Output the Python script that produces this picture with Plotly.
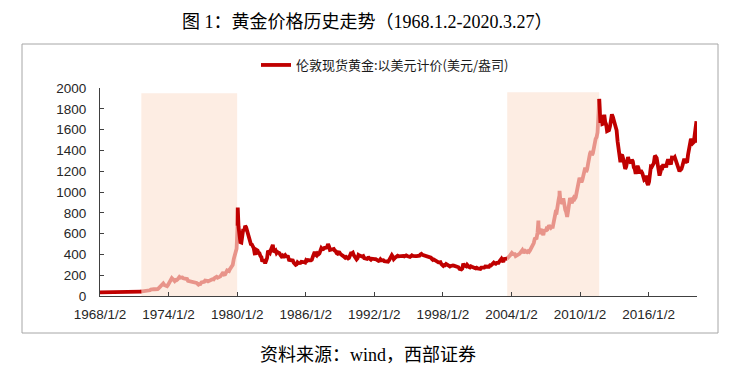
import pandas as pd
import plotly.graph_objects as go

# ---------------- data ----------------
title_text = "图 1：黄金价格历史走势（1968.1.2-2020.3.27）"
source_text = "资料来源：wind，西部证券"
series_name = "伦敦现货黄金:以美元计价(美元/盎司)"

# monthly gold price (USD/oz), Jan 1968 .. Mar 2020 (read/estimated)
gold_price = [
    # 1968
    35.2, 35.2, 36.0, 37.9, 40.8, 41.1, 39.5, 39.2, 39.7, 39.8, 40.8, 41.9,
    # 1969
    42.3, 42.6, 43.2, 43.3, 43.5, 41.3, 41.8, 41.1, 40.9, 40.4, 37.4, 35.2,
    # 1970
    34.9, 35.0, 35.1, 35.6, 35.9, 35.4, 35.3, 35.4, 36.2, 37.5, 37.4, 37.4,
    # 1971
    37.9, 38.7, 38.9, 39.0, 40.5, 40.1, 41.0, 42.7, 42.0, 42.5, 42.9, 43.5,
    # 1972
    45.8, 48.3, 48.3, 49.0, 54.6, 62.1, 65.7, 67.0, 65.5, 64.9, 62.9, 63.9,
    # 1973
    65.1, 74.2, 84.4, 90.5, 102.0, 120.1, 120.2, 106.8, 102.6, 100.1, 94.8, 106.7,
    # 1974
    129.2, 150.2, 168.4, 172.2, 163.3, 154.1, 143.0, 154.6, 151.8, 158.8, 181.7, 183.9,
    # 1975
    176.3, 179.6, 178.2, 170.1, 167.4, 164.2, 165.2, 163.2, 144.6, 142.8, 142.8, 139.3,
    # 1976
    131.6, 131.0, 132.6, 128.1, 128.0, 125.8, 117.8, 109.3, 114.3, 116.2, 130.4, 133.6,
    # 1977
    132.3, 136.4, 148.5, 149.1, 146.7, 140.9, 143.3, 144.8, 149.7, 158.5, 162.3, 160.5,
    # 1978
    173.2, 178.2, 183.7, 175.3, 176.3, 183.8, 188.6, 206.1, 212.5, 227.1, 206.1, 207.8,
    # 1979
    227.3, 245.7, 242.1, 239.2, 257.6, 279.1, 294.7, 300.8, 355.1, 391.7, 392.5, 455.1,
    # 1980
    675.3, 665.3, 553.6, 517.4, 513.8, 600.7, 644.3, 627.2, 673.6, 661.1, 623.5, 594.9,
    # 1981
    557.4, 500.0, 499.8, 495.8, 479.7, 460.8, 409.3, 410.7, 443.1, 437.7, 413.4, 410.1,
    # 1982
    384.1, 374.2, 330.2, 350.5, 333.7, 314.9, 339.2, 364.0, 435.6, 422.1, 415.8, 444.3,
    # 1983
    481.5, 491.9, 421.9, 432.8, 438.2, 412.6, 422.7, 416.3, 411.8, 393.6, 381.7, 388.4,
    # 1984
    370.9, 386.0, 394.2, 381.3, 377.4, 378.2, 347.7, 348.0, 341.1, 340.0, 341.2, 319.9,
    # 1985
    302.8, 299.1, 303.9, 324.0, 316.3, 316.8, 317.4, 329.5, 323.6, 326.3, 325.4, 322.0,
    # 1986
    345.5, 338.9, 345.7, 340.4, 342.4, 342.6, 348.7, 376.3, 418.3, 423.6, 398.0, 390.0,
    # 1987
    408.3, 401.0, 408.9, 438.4, 460.2, 449.6, 450.6, 461.1, 460.1, 464.7, 467.2, 486.3,
    # 1988
    476.7, 442.1, 443.5, 452.1, 451.3, 451.6, 437.0, 431.3, 412.5, 406.8, 420.3, 418.7,
    # 1989
    404.2, 387.9, 390.2, 384.2, 371.3, 367.6, 375.4, 365.4, 361.6, 366.9, 394.3, 409.4,
    # 1990
    410.1, 416.8, 393.1, 374.3, 369.1, 352.3, 362.5, 394.7, 389.1, 380.8, 381.9, 378.2,
    # 1991
    383.6, 363.8, 363.3, 358.4, 357.4, 366.7, 367.7, 356.4, 348.8, 358.7, 359.9, 361.8,
    # 1992
    354.5, 354.0, 344.4, 338.6, 337.2, 340.8, 353.1, 343.0, 345.4, 344.4, 335.0, 334.8,
    # 1993
    329.0, 329.3, 330.1, 342.2, 367.2, 371.9, 392.0, 378.0, 355.3, 364.2, 373.8, 383.3,
    # 1994
    387.0, 382.0, 384.0, 377.3, 381.3, 385.6, 385.5, 380.4, 391.6, 389.8, 384.4, 379.3,
    # 1995
    378.6, 376.5, 382.1, 391.0, 385.2, 387.6, 386.2, 383.7, 383.1, 383.1, 385.3, 387.4,
    # 1996
    399.5, 404.8, 396.2, 392.9, 391.9, 385.3, 383.5, 387.5, 383.1, 381.1, 377.9, 369.2,
    # 1997
    355.1, 346.6, 351.8, 344.5, 343.8, 340.8, 324.1, 324.0, 322.8, 324.9, 306.0, 288.7,
    # 1998
    289.1, 297.5, 296.0, 308.3, 299.4, 292.3, 292.9, 284.1, 289.0, 296.1, 294.1, 291.6,
    # 1999
    287.1, 287.3, 285.9, 282.6, 276.4, 261.3, 256.2, 256.7, 264.7, 310.7, 293.2, 283.1,
    # 2000
    284.6, 300.9, 286.4, 280.0, 275.3, 285.7, 281.6, 274.5, 273.7, 270.0, 266.0, 271.5,
    # 2001
    265.5, 261.9, 263.0, 260.5, 272.4, 270.2, 267.5, 272.4, 283.4, 283.1, 276.2, 275.9,
    # 2002
    281.7, 295.5, 294.0, 302.7, 314.5, 321.2, 313.3, 310.3, 319.2, 316.6, 319.2, 333.4,
    # 2003
    356.9, 358.0, 340.6, 328.2, 355.7, 356.4, 351.0, 359.8, 378.9, 378.9, 389.9, 407.6,
    # 2004
    414.0, 405.3, 406.7, 403.0, 383.8, 392.4, 398.1, 400.5, 405.3, 420.5, 439.4, 442.1,
    # 2005
    424.0, 423.4, 434.2, 429.1, 421.9, 430.7, 424.5, 437.9, 456.0, 469.9, 476.7, 509.4,
    # 2006
    549.9, 555.0, 557.1, 610.6, 675.4, 596.2, 633.7, 632.6, 598.2, 585.8, 627.8, 629.8,
    # 2007
    631.2, 664.8, 654.9, 679.4, 666.9, 655.5, 665.3, 665.4, 712.7, 754.6, 806.3, 803.2,
    # 2008
    889.6, 922.3, 968.4, 909.7, 888.7, 889.5, 939.8, 839.0, 829.9, 806.6, 760.9, 816.1,
    # 2009
    858.7, 943.2, 924.3, 890.2, 928.6, 945.7, 934.2, 949.4, 996.6, 1043.2, 1127.0, 1134.7,
    # 2010
    1118.0, 1095.4, 1113.3, 1148.7, 1205.4, 1232.9, 1192.9, 1215.8, 1271.0, 1342.0, 1369.9, 1391.0,
    # 2011
    1356.4, 1372.7, 1424.0, 1473.8, 1510.4, 1528.7, 1572.8, 1755.8, 1771.9, 1665.2, 1739.0, 1652.3,
    # 2012
    1656.1, 1742.6, 1673.8, 1650.1, 1585.5, 1596.7, 1594.3, 1630.3, 1744.5, 1746.6, 1721.6, 1684.8,
    # 2013
    1671.9, 1627.6, 1593.1, 1487.9, 1414.0, 1343.4, 1285.5, 1351.7, 1348.6, 1316.6, 1275.8, 1221.5,
    # 2014
    1244.3, 1299.6, 1336.1, 1299.0, 1287.5, 1279.1, 1310.6, 1295.1, 1236.6, 1222.5, 1175.3, 1200.6,
    # 2015
    1251.8, 1227.1, 1178.6, 1198.9, 1198.6, 1181.5, 1128.3, 1117.9, 1124.8, 1159.3, 1086.4, 1068.3,
    # 2016
    1097.9, 1199.5, 1245.1, 1242.3, 1260.9, 1276.4, 1336.7, 1340.2, 1326.6, 1266.6, 1238.4, 1157.4,
    # 2017
    1192.1, 1234.2, 1231.1, 1266.9, 1246.0, 1260.3, 1236.8, 1283.0, 1314.1, 1279.5, 1281.9, 1264.5,
    # 2018
    1331.3, 1330.7, 1324.7, 1334.8, 1303.5, 1281.6, 1237.7, 1201.7, 1198.4, 1215.4, 1220.7, 1250.4,
    # 2019
    1291.8, 1320.1, 1300.9, 1285.9, 1283.7, 1359.0, 1412.9, 1500.4, 1510.6, 1494.8, 1470.0, 1479.1,
    # 2020
    1560.7, 1597.1, 1591.9,
]

# notable daily extremes
extreme_dates = ["1968-01-02", "1980-01-21", "1983-02-15", "1987-12-14", "2006-05-12",
                 "2008-03-17", "2011-08-22", "2011-09-06", "2020-02-24", "2020-03-09",
                 "2020-03-19", "2020-03-27"]
extreme_values = [35.2, 850.0, 509.0, 500.0, 725.0,
                  1011.0, 1877.0, 1895.0, 1659.0, 1680.0,
                  1474.0, 1617.0]

# highlighted periods (shaded) and their top values
shade_starts = ["1971-08-15", "2003-08-20"]
shade_ends = ["1980-01-02", "2011-09-06"]
shade_tops = [1950, 1960]

tick_dates = ["1968-01-02", "1974-01-02", "1980-01-02", "1986-01-02", "1992-01-02",
              "1998-01-02", "2004-01-02", "2010-01-02", "2016-01-02"]
tick_labels = ["1968/1/2", "1974/1/2", "1980/1/2", "1986/1/2", "1992/1/2",
               "1998/1/2", "2004/1/2", "2010/1/2", "2016/1/2"]
y_ticks = [0, 200, 400, 600, 800, 1000, 1200, 1400, 1600, 1800, 2000]

# ---------------- build series ----------------
month_dates = pd.date_range("1968-01-01", periods=len(gold_price), freq="MS") + pd.Timedelta(days=14)
s = pd.Series(gold_price, index=month_dates)
ext = pd.Series(extreme_values, index=pd.to_datetime(extreme_dates))
s = pd.concat([s, ext]).sort_index()
s = s[~s.index.duplicated(keep="last")]
s = s[s.index <= pd.Timestamp("2020-03-27")]

DARK = "#C00000"
LIGHT = "#E8948A"
SHADE = "#FDEDE3"

bounds = [pd.Timestamp("1968-01-01")]
for a, b in zip(shade_starts, shade_ends):
    bounds += [pd.Timestamp(a), pd.Timestamp(b)]
bounds.append(pd.Timestamp("2020-12-31"))

fig = go.Figure()


def seg(lo, hi):
    part = s[(s.index >= lo) & (s.index <= hi)]
    before = s[s.index < lo]
    after = s[s.index > hi]
    if len(before):
        part = pd.concat([before.iloc[-1:], part])
    if len(after):
        part = pd.concat([part, after.iloc[:1]])
    return part


# light (highlighted) segments first, then dark on top
for i in range(len(shade_starts)):
    part = seg(pd.Timestamp(shade_starts[i]), pd.Timestamp(shade_ends[i]))
    fig.add_trace(go.Scatter(x=part.index, y=part.values, mode="lines",
                             line=dict(color=LIGHT, width=3.8),
                             showlegend=False, hoverinfo="skip"))

dark_ranges = [(bounds[0], bounds[1]), (bounds[2], bounds[3]), (bounds[4], bounds[5])]
for k, (lo, hi) in enumerate(dark_ranges):
    part = s[(s.index >= lo) & (s.index <= hi)]
    fig.add_trace(go.Scatter(x=part.index, y=part.values, mode="lines",
                             line=dict(color=DARK, width=3.8),
                             name=series_name, showlegend=(k == 0)))

# shaded periods
for a, b, t in zip(shade_starts, shade_ends, shade_tops):
    fig.add_shape(type="rect", xref="x", yref="y", x0=a, x1=b, y0=0, y1=t,
                  fillcolor=SHADE, line=dict(width=0), layer="below")

# layout geometry
L, R, T, B = 100, 39, 88, 73
W, H = 736, 369
pw, ph = W - L - R, H - T - B


def px_x(px):
    return (px - L) / pw


def px_y(py):
    return (H - B - py) / ph


# border box
fig.add_shape(type="rect", xref="paper", yref="paper",
              x0=px_x(22), x1=px_x(718), y0=px_y(333), y1=px_y(44),
              line=dict(color="#A6A6A6", width=1), fillcolor="rgba(0,0,0,0)", layer="below")

fig.add_annotation(text=title_text, xref="paper", yref="paper", x=px_x(367), y=px_y(22),
                   showarrow=False, xanchor="center", yanchor="middle",
                   font=dict(family="Liberation Serif, Noto Sans CJK SC", size=18, color="#000000"))
fig.add_annotation(text=source_text, xref="paper", yref="paper", x=px_x(368), y=px_y(355),
                   showarrow=False, xanchor="center", yanchor="middle",
                   font=dict(family="Liberation Serif, Noto Sans CJK SC", size=18, color="#000000"))

fig.update_layout(
    width=W, height=H,
    margin=dict(l=L, r=R, t=T, b=B),
    paper_bgcolor="white", plot_bgcolor="white",
    font=dict(family="Liberation Sans, Arial, Noto Sans CJK SC", size=13, color="#262626"),
    legend=dict(orientation="h", x=px_x(256), y=px_y(65), xanchor="left", yanchor="middle",
                font=dict(family="Noto Sans CJK SC", size=13, color="#1a1a1a"),
                bgcolor="rgba(0,0,0,0)", itemwidth=30),
    showlegend=True,
)

fig.update_xaxes(
    type="date", range=["1968-01-02", "2020-03-27"],
    tickvals=tick_dates, ticktext=tick_labels,
    showgrid=False, zeroline=False,
    showline=True, linecolor="#404040", linewidth=1,
    ticks="inside", ticklen=4, tickcolor="#404040",
    ticklabelstandoff=6,
    tickfont=dict(size=13.5, color="#262626"),
)
fig.update_yaxes(
    range=[0, 2000], tickvals=y_ticks,
    showgrid=False, zeroline=False,
    showline=True, linecolor="#404040", linewidth=1,
    ticks="inside", ticklen=4, tickcolor="#404040",
    ticklabelstandoff=10,
    tickfont=dict(size=13.5, color="#262626"),
)

# remove the browser's default 8px page margin so the figure fills the window exactly
fig.write_html("out.html", config={"displayModeBar": False},
               post_script="document.body.style.margin='0';")
